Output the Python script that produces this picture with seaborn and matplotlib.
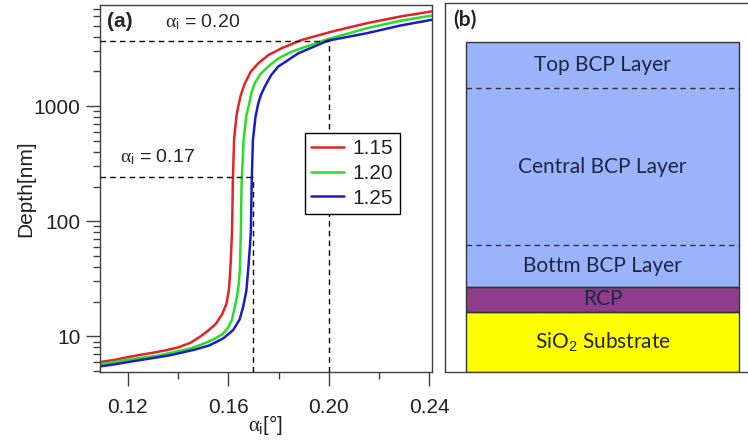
import numpy as np
import pandas as pd
import matplotlib
matplotlib.use("Agg")
import matplotlib.pyplot as plt
from matplotlib.ticker import FixedLocator, MultipleLocator, NullFormatter, FixedFormatter
import seaborn as sns

# ---------------------------------------------------------------------------
# Panel (a): X-ray penetration depth versus incidence angle for three ratios
# ---------------------------------------------------------------------------
alpha_115 = [0.109, 0.115, 0.120, 0.125, 0.130, 0.135, 0.140, 0.145, 0.149,
             0.152, 0.155, 0.1575, 0.1593, 0.1602, 0.1606, 0.1610, 0.1615,
             0.1618, 0.1623, 0.1633, 0.1640, 0.1650, 0.1666, 0.1690, 0.1719,
             0.1760, 0.1812, 0.1891, 0.2011, 0.2150, 0.2283, 0.2410]
depth_115 = [5.98, 6.25, 6.6, 6.9, 7.2, 7.55, 8.0, 8.8, 10.0,
             11.2, 12.8, 15.5, 19.2, 25, 32, 45, 83,
             214, 506, 835, 1000, 1250, 1575, 2000, 2350,
             2780, 3180, 3750, 4430, 5240, 5990, 6650]

alpha_120 = [0.109, 0.115, 0.120, 0.1265, 0.1327, 0.1385, 0.1447, 0.150,
             0.1545, 0.1579, 0.1600, 0.1615, 0.1626, 0.1636, 0.1642, 0.1646,
             0.1650, 0.1653, 0.1661, 0.1672, 0.1681, 0.1692, 0.1705, 0.1728,
             0.1758, 0.1800, 0.1851, 0.1984, 0.2150, 0.2283, 0.2410]
depth_120 = [5.74, 5.98, 6.27, 6.55, 6.84, 7.3, 7.82, 8.6,
             9.5, 10.5, 12.0, 14.0, 18.0, 23, 29, 37.5,
             83, 214, 506, 830, 1000, 1300, 1575, 1900,
             2200, 2600, 2960, 3750, 4740, 5500, 6120]

alpha_125 = [0.109, 0.115, 0.1201, 0.1285, 0.1367, 0.140, 0.1465, 0.1526,
             0.1580, 0.1619, 0.1645, 0.1659, 0.1672, 0.1679, 0.1686, 0.1690,
             0.1693, 0.1698, 0.1708, 0.1719, 0.1730, 0.1745, 0.1770, 0.1798,
             0.1878, 0.1996, 0.2150, 0.2283, 0.2410]
depth_125 = [5.48, 5.72, 5.98, 6.4, 6.84, 7.1, 7.65, 8.36,
             9.6, 11.3, 14.0, 18.0, 25, 37.5, 60, 83,
             214, 506, 800, 1050, 1250, 1472, 1850, 2200,
             2870, 3700, 4290, 5000, 5620]

ratios = ["1.15", "1.20", "1.25"]
line_colors = ["#E32424", "#27DE27", "#1C1CC6"]

# marked incidence angles with the depth reached there
marked_alpha = [0.17, 0.20]
marked_depth = [243, 3700]
marked_text = [r"$\alpha_\mathrm{i}$ = 0.17", r"$\alpha_\mathrm{i}$ = 0.20"]

x_ticks = [0.12, 0.16, 0.20, 0.24]
x_tick_labels = ["0.12", "0.16", "0.20", "0.24"]
y_ticks = [10, 100, 1000]
y_tick_labels = ["10", "100", "1000"]

# ---------------------------------------------------------------------------
# Panel (b): film stack, listed from substrate upwards
# ---------------------------------------------------------------------------
layer_names = [r"SiO$_\mathrm{2}$ Substrate", "RCP", "Bottm BCP Layer",
               "Central BCP Layer", "Top BCP Layer"]
layer_thickness = [60.3, 25.0, 41.4, 157.0, 46.6]
layer_colors = ["#FFFF00", "#8E3D8B", "#9BB3FB", "#9BB3FB", "#9BB3FB"]

# ---------------------------------------------------------------------------
sns.set_theme(style="ticks")
plt.rcParams["font.family"] = ["Liberation Sans", "DejaVu Sans"]
plt.rcParams["mathtext.fontset"] = "custom"
plt.rcParams["mathtext.rm"] = "Liberation Sans"
plt.rcParams["mathtext.it"] = "Liberation Serif"
plt.rcParams["mathtext.default"] = "it"

W, H = 748, 442
fig = plt.figure(figsize=(W / 100, H / 100), dpi=100)
fig.patch.set_facecolor("white")

spine_col = "#404040"

ax = fig.add_axes([100 / W, (H - 372) / H, 332 / W, 367 / H])

frames = []
for name, a, d in zip(ratios, [alpha_115, alpha_120, alpha_125],
                      [depth_115, depth_120, depth_125]):
    frames.append(pd.DataFrame({"alpha": a, "depth": d, "ratio": name}))
df = pd.concat(frames, ignore_index=True)

sns.lineplot(data=df, x="alpha", y="depth", hue="ratio",
             palette=dict(zip(ratios, line_colors)), estimator=None,
             sort=False, linewidth=1.8, ax=ax)

ax.set_yscale("log")
xlim = (0.109, 0.241)
ylim = (4.9, 7550)
ax.set_xlim(*xlim)
ax.set_ylim(*ylim)

# guide lines marking the two angles
for a, d in zip(marked_alpha, marked_depth):
    ax.hlines(d, xlim[0], a, colors="black", linestyles=(0, (4, 3)),
              linewidth=1.0, zorder=3)
    ax.vlines(a, ylim[0], d, colors="black", linestyles=(0, (4, 3)),
              linewidth=1.0, zorder=3)

ax.text(0.06, 0.585, marked_text[0], transform=ax.transAxes, fontsize=14,
        va="center", ha="left")
ax.text(0.196, 0.954, marked_text[1], transform=ax.transAxes, fontsize=14,
        va="center", ha="left")
ax.text(0.022, 0.954, "(a)", transform=ax.transAxes, fontsize=15,
        fontweight="bold", va="center", ha="left")

ax.xaxis.set_major_locator(FixedLocator(x_ticks))
ax.xaxis.set_major_formatter(FixedFormatter(x_tick_labels))
ax.xaxis.set_minor_locator(MultipleLocator(0.02))
ax.yaxis.set_major_locator(FixedLocator(y_ticks))
ax.yaxis.set_major_formatter(FixedFormatter(y_tick_labels))
ax.yaxis.set_minor_formatter(NullFormatter())

ax.tick_params(which="major", length=10, width=1.0, color=spine_col,
               labelsize=15, labelcolor="#222222")
ax.tick_params(axis="x", which="major", pad=9)
ax.tick_params(axis="y", which="major", pad=4)
ax.tick_params(which="minor", length=5, width=1.0, color=spine_col)
for s in ax.spines.values():
    s.set_color(spine_col)
    s.set_linewidth(1.0)

ax.set_xlabel(r"$\alpha_\mathrm{i}$[°]", fontsize=15, labelpad=-3, color="#222222")
ax.set_ylabel("Depth[nm]", fontsize=15, labelpad=-1, color="#222222")

sns.move_legend(ax, loc="upper left", bbox_to_anchor=(0.617, 0.651),
                title=None, frameon=True, fancybox=False, edgecolor="black",
                framealpha=1, fontsize=15, handlelength=1.6,
                handletextpad=0.4, labelspacing=0.27, borderpad=0.3,
                borderaxespad=0)
leg = ax.get_legend()
leg.get_frame().set_linewidth(1.0)
for t in leg.get_texts():
    t.set_color("#222222")

# ---------------------------------------------------------------------------
bx = fig.add_axes([445 / W, (H - 372) / H, 320 / W, 369 / H])
bx.set_xlim(0, 320)
bx.set_ylim(0, 369)
bx.set_xticks([])
bx.set_yticks([])
for side in ["left", "top", "bottom"]:
    bx.spines[side].set_color(spine_col)
    bx.spines[side].set_linewidth(1.0)
bx.spines["right"].set_visible(False)

stack_left, stack_right = 21.0, 294.3
stack_center = (stack_left + stack_right) / 2
stack_width = stack_right - stack_left
text_col = "#1E2644"
edge_col = "#333333"

bottoms = np.concatenate([[0.0], np.cumsum(layer_thickness)[:-1]])
tops = bottoms + np.array(layer_thickness)
bx.bar([stack_center] * len(layer_names), layer_thickness, bottom=bottoms,
       width=stack_width, color=layer_colors, edgecolor=layer_colors,
       linewidth=0.5, zorder=1)

# outlines: substrate, RCP and the whole BCP block; dashed lines between BCP layers
bcp = [i for i, n in enumerate(layer_names) if "BCP" in n]
for lo, hi in [(bottoms[0], tops[0]), (bottoms[1], tops[1]),
               (bottoms[bcp[0]], tops[bcp[-1]])]:
    bx.add_patch(plt.Rectangle((stack_left, lo), stack_width, hi - lo,
                               fill=False, edgecolor=edge_col, linewidth=1.0,
                               zorder=3))
for i in bcp[1:]:
    bx.hlines(bottoms[i], stack_left, stack_right, colors=edge_col,
              linestyles=(0, (4, 3)), linewidth=1.0, zorder=3)

for name, lo, hi in zip(layer_names, bottoms, tops):
    bx.text(stack_center, (lo + hi) / 2, name, ha="center", va="center",
            fontsize=15, color=text_col, family=["Lato", "DejaVu Sans"],
            zorder=4)

bx.text(8, 352, "(b)", ha="left", va="center", fontsize=15,
        fontweight="bold", color="#222222", family=["Lato", "DejaVu Sans"])

fig.savefig("out.png", dpi=100)
